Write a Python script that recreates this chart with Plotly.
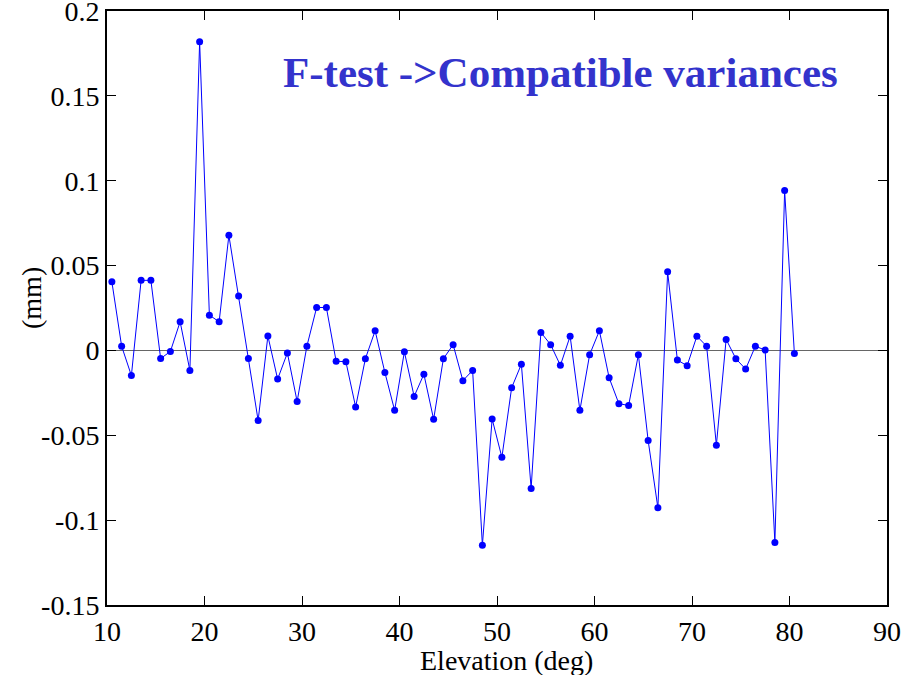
import plotly.graph_objects as go

elevation = [10.5 + i for i in range(71)]
residual_mm = [
    0.0404, 0.0025, -0.0148, 0.0413, 0.0413, -0.0048, -0.0006, 0.0169, -0.0118, 0.1819,
    0.0208, 0.0169, 0.0678, 0.0320, -0.0048, -0.0413, 0.0085, -0.0169, -0.0015, -0.0301,
    0.0025, 0.0253, 0.0253, -0.0064, -0.0066, -0.0333, -0.0049, 0.0116, -0.0130, -0.0353,
    -0.0008, -0.0271, -0.0140, -0.0406, -0.0049, 0.0034, -0.0178, -0.0118, -0.1148, -0.0404,
    -0.0630, -0.0220, -0.0081, -0.0813, 0.0106, 0.0034, -0.0088, 0.0084, -0.0353, -0.0025,
    0.0116, -0.0161, -0.0314, -0.0324, -0.0025, -0.0530, -0.0927, 0.0463, -0.0057, -0.0090,
    0.0084, 0.0025, -0.0558, 0.0065, -0.0049, -0.0110, 0.0025, 0.0002, -0.1131, 0.0942,
    -0.0018,
]

x_ticks = [10, 20, 30, 40, 50, 60, 70, 80, 90]
y_ticks = [-0.15, -0.1, -0.05, 0, 0.05, 0.1, 0.15, 0.2]
y_tick_labels = ["-0.15", "-0.1", "-0.05", "0", "0.05", "0.1", "0.15", "0.2"]

title_text = "F-test ->Compatible variances"
x_title = "Elevation (deg)"
y_title = "(mm)"

FONT = "Liberation Serif, Times New Roman, serif"
W, H = 923, 675
L, T = 107, 11
R, B = W - 887, H - 605
pw, ph = W - L - R, H - T - B


def px(xp):
    return (xp - L) / pw


def py(yp):
    return 1 - (yp - T) / ph


fig = go.Figure()
fig.add_trace(go.Scatter(
    x=elevation, y=residual_mm, mode="lines+markers",
    line=dict(color="#0000FF", width=1),
    marker=dict(color="#0000FF", size=7),
    showlegend=False,
))

fig.update_layout(
    width=W, height=H,
    margin=dict(l=L, r=R, t=T, b=B),
    paper_bgcolor="white", plot_bgcolor="white",
    font=dict(family=FONT, size=28, color="black"),
    annotations=[
        dict(text="<b>" + title_text + "</b>", x=px(281), y=py(72),
             xref="paper", yref="paper", xanchor="left", yanchor="middle",
             showarrow=False, font=dict(family=FONT, size=43, color="#3333CC")),
        dict(text=x_title, x=px(507), y=py(660), xref="paper", yref="paper",
             xanchor="center", yanchor="middle", showarrow=False,
             font=dict(family=FONT, size=28, color="black")),
        dict(text=y_title, x=px(31), y=py(298), xref="paper", yref="paper",
             xanchor="center", yanchor="middle", showarrow=False, textangle=-90,
             font=dict(family=FONT, size=28, color="black")),
    ],
)

fig.update_xaxes(
    range=[10, 90], tickvals=x_ticks, ticks="inside", ticklen=9, tickwidth=1,
    tickcolor="black", showline=True, linecolor="black", linewidth=2,
    mirror="ticks", showgrid=False, zeroline=False, automargin=False,
    ticklabeloverflow="allow", tickfont=dict(size=28),
)
fig.update_yaxes(
    range=[-0.15, 0.2], tickvals=y_ticks, ticktext=y_tick_labels,
    ticks="inside", ticklen=9, tickwidth=1, tickcolor="black",
    showline=True, linecolor="black", linewidth=2, mirror="ticks",
    showgrid=False, zeroline=True, zerolinecolor="#666666", zerolinewidth=1,
    automargin=False, ticklabeloverflow="allow", tickfont=dict(size=28),
)

fig.write_html(
    "out.html",
    config={"displayModeBar": False},
    post_script="document.body.style.margin='0';document.body.style.padding='0';",
)
